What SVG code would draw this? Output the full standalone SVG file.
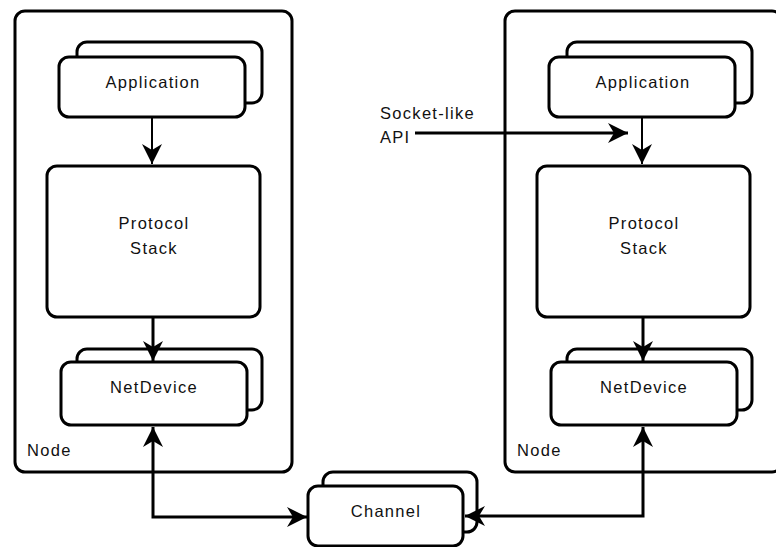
<svg xmlns="http://www.w3.org/2000/svg" width="776" height="547" viewBox="0 0 776 547">
<style>
.box{fill:#fff;stroke:#000;stroke-width:3}
.t{font-family:"Liberation Sans",Arial,sans-serif;font-size:16.5px;letter-spacing:1.3px;fill:#111;text-anchor:middle}
.tl{font-family:"Liberation Sans",Arial,sans-serif;font-size:16.5px;letter-spacing:1.3px;fill:#111}
.c{fill:none;stroke:#000;stroke-width:3}
</style>
<defs>
<marker id="ah" viewBox="-21 -11 22 22" refX="0" refY="0" markerWidth="22" markerHeight="22" markerUnits="userSpaceOnUse" orient="auto-start-reverse">
<path d="M0,0 L-20,-10 L-14,0 L-20,10 Z" fill="#000"/>
</marker>
</defs>
<rect width="776" height="547" fill="#fff"/>
<g id="nodeL">
<rect class="box" x="15" y="11" width="277" height="461" rx="10"/>
<text class="tl" x="27" y="456">Node</text>
</g>
<g id="nodeR">
<rect class="box" x="505" y="11" width="277" height="461" rx="10"/>
<text class="tl" x="517" y="456">Node</text>
</g>
<g id="appL">
<rect class="box" x="77" y="42" width="185" height="61" rx="10"/>
<rect class="box" x="59" y="57" width="186" height="60" rx="10"/>
<text class="t" x="153" y="88">Application</text>
</g>
<g id="stackL">
<rect class="box" x="47" y="166" width="213" height="151" rx="10"/>
<text class="t" x="154" y="229">Protocol</text>
<text class="t" x="154" y="254">Stack</text>
</g>
<g id="netL">
<rect class="box" x="77" y="349" width="185" height="61" rx="10"/>
<rect class="box" x="61" y="362" width="186" height="63" rx="10"/>
<text class="t" x="154" y="393">NetDevice</text>
</g>
<g id="appR">
<rect class="box" x="567" y="42" width="185" height="61" rx="10"/>
<rect class="box" x="549" y="57" width="186" height="60" rx="10"/>
<text class="t" x="643" y="88">Application</text>
</g>
<g id="stackR">
<rect class="box" x="537" y="166" width="213" height="151" rx="10"/>
<text class="t" x="644" y="229">Protocol</text>
<text class="t" x="644" y="254">Stack</text>
</g>
<g id="netR">
<rect class="box" x="567" y="349" width="185" height="61" rx="10"/>
<rect class="box" x="551" y="362" width="186" height="63" rx="10"/>
<text class="t" x="644" y="393">NetDevice</text>
</g>
<g id="channel">
<rect class="box" x="323" y="472" width="154" height="60" rx="10"/>
<rect class="box" x="308" y="486" width="155" height="60" rx="10"/>
<text class="t" x="386" y="517">Channel</text>
</g>
<g id="api">
<text class="tl" x="380" y="119">Socket-like</text>
<text class="tl" x="380" y="143">API</text>
</g>
<g id="connectors">
<path class="c" style="stroke-width:2" d="M152,117 L152,164" marker-end="url(#ah)"/>
<path class="c" d="M153,317 L153,361" marker-end="url(#ah)"/>
<path class="c" style="stroke-width:2" d="M642,117 L642,164" marker-end="url(#ah)"/>
<path class="c" d="M643,317 L643,361" marker-end="url(#ah)"/>
<path class="c" d="M153,427 L153,517 L307,517" marker-start="url(#ah)" marker-end="url(#ah)"/>
<path class="c" d="M643,427 L643,516 L465,516" marker-start="url(#ah)" marker-end="url(#ah)"/>
<path class="c" d="M415,133 L628,133" marker-end="url(#ah)"/>
</g>
</svg>
